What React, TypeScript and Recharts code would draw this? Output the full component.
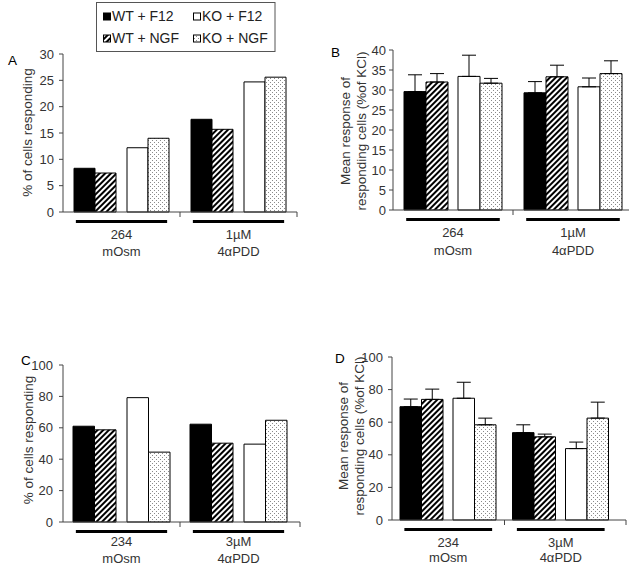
import React from "react";
import { BarChart, Bar, XAxis, YAxis, ErrorBar } from "recharts";

const FONT = "'Liberation Sans', Arial, Helvetica, sans-serif";

const groups = ["WT + F12", "WT + NGF", "KO + F12", "KO + NGF"];
const catsTop = ["264\nmOsm", "1µM\n4αPDD"];
const catsBottom = ["234\nmOsm", "3µM\n4αPDD"];

// A: % of cells responding
const pctA_wtF12 = [8.3, 17.6];
const pctA_wtNGF = [7.4, 15.7];
const pctA_koF12 = [12.2, 24.7];
const pctA_koNGF = [14.0, 25.6];

// B: mean response (% of KCl), upper error
const respB_wtF12 = [29.6, 29.3];
const respB_wtNGF = [32.0, 33.3];
const respB_koF12 = [33.4, 30.8];
const respB_koNGF = [31.7, 34.1];
const errB_wtF12 = [4.2, 2.8];
const errB_wtNGF = [2.1, 2.9];
const errB_koF12 = [5.3, 2.2];
const errB_koNGF = [1.2, 3.2];

// C: % of cells responding
const pctC_wtF12 = [61.0, 62.3];
const pctC_wtNGF = [58.7, 50.2];
const pctC_koF12 = [79.2, 49.6];
const pctC_koNGF = [44.5, 64.8];

// D: mean response (% of KCl), upper error
const respD_wtF12 = [69.5, 53.6];
const respD_wtNGF = [74.0, 51.0];
const respD_koF12 = [74.7, 43.8];
const respD_koNGF = [58.4, 62.5];
const errD_wtF12 = [4.7, 4.8];
const errD_wtNGF = [6.3, 1.7];
const errD_koF12 = [9.8, 4.0];
const errD_koNGF = [4.1, 9.8];

const ticks30 = [0, 5, 10, 15, 20, 25, 30];
const ticks40 = [0, 5, 10, 15, 20, 25, 30, 35, 40];
const ticks100 = [0, 20, 40, 60, 80, 100];

function makeRows(cats: string[], vals: number[][], errs?: number[][]) {
  return cats.map((name, i) => {
    const r: any = { name };
    vals.forEach((v, k) => {
      r[`s${k}`] = v[i];
      if (errs) r[`e${k}`] = [0, errs[k][i]];
    });
    return r;
  });
}

const rowsA = makeRows(catsTop, [pctA_wtF12, pctA_wtNGF, pctA_koF12, pctA_koNGF]);
const rowsB = makeRows(
  catsTop,
  [respB_wtF12, respB_wtNGF, respB_koF12, respB_koNGF],
  [errB_wtF12, errB_wtNGF, errB_koF12, errB_koNGF]
);
const rowsC = makeRows(catsBottom, [pctC_wtF12, pctC_wtNGF, pctC_koF12, pctC_koNGF]);
const rowsD = makeRows(
  catsBottom,
  [respD_wtF12, respD_wtNGF, respD_koF12, respD_koNGF],
  [errD_wtF12, errD_wtNGF, errD_koF12, errD_koNGF]
);

const fills = ["#000", "url(#hatch)", "#fff", "url(#dots)"];

function CatTick(props: any) {
  const { x, y, payload, index, dy1, dy2, padRight, count } = props;
  const half = payload && typeof payload.offset === "number" && payload.offset > 0 ? payload.offset : 58;
  const [l1, l2] = String(payload.value).split("\n");
  const bx = x + half + (index === count - 1 ? padRight : 0);
  const uw = half * 0.78;
  return (
    <g>
      <line x1={bx} x2={bx} y1={y} y2={y + 5} stroke="#444" />
      <line x1={x - uw} x2={x + uw} y1={y + 9.5} y2={y + 9.5} stroke="#000" strokeWidth={3} />
      <text x={x} y={y + dy1} textAnchor="middle" fontSize={13} fill="#333" fontFamily={FONT}>
        {l1}
      </text>
      <text x={x} y={y + dy2} textAnchor="middle" fontSize={13} fill="#333" fontFamily={FONT}>
        {l2}
      </text>
    </g>
  );
}

type PanelProps = {
  left: number;
  top: number;
  width: number;
  height: number;
  margin: { top: number; right: number; bottom: number; left: number };
  yWidth: number;
  xHeight: number;
  domain: [number, number];
  ticks: number[];
  rows: any[];
  hasErr: boolean;
  barSize: number;
  gapSize: number;
  padRight: number;
  labelDy: [number, number];
  yTickMargin: number;
};

function Panel(p: PanelProps) {
  const bar = (k: number) => (
    <Bar
      key={`s${k}`}
      dataKey={`s${k}`}
      name={groups[k]}
      fill={fills[k]}
      stroke="#000"
      strokeWidth={1}
      barSize={p.barSize}
      isAnimationActive={false}
    >
      {p.hasErr && (
        <ErrorBar
          dataKey={`e${k}`}
          width={7}
          stroke="#000"
          strokeWidth={1}
          direction="y"
          isAnimationActive={false}
        />
      )}
    </Bar>
  );
  return (
    <div style={{ position: "absolute", left: p.left, top: p.top }}>
      <BarChart width={p.width} height={p.height} data={p.rows} margin={p.margin} barGap={0}>
        <XAxis
          dataKey="name"
          axisLine={{ stroke: "#444" }}
          tickLine={false}
          tickSize={0}
          tickMargin={0}
          height={p.xHeight}
          interval={0}
          padding={{ left: 0, right: p.padRight }}
          tick={(t: any) => (
            <CatTick {...t} dy1={p.labelDy[0]} dy2={p.labelDy[1]} padRight={p.padRight} count={p.rows.length} />
          )}
        />
        <YAxis
          type="number"
          domain={p.domain}
          ticks={p.ticks}
          interval={0}
          width={p.yWidth}
          axisLine={{ stroke: "#444" }}
          tickLine={{ stroke: "#444" }}
          tickSize={4}
          tickMargin={p.yTickMargin}
          tick={{ fontSize: 13, fill: "#333", fontFamily: FONT }}
        />
        {bar(0)}
        {bar(1)}
        <Bar dataKey="gap" barSize={p.gapSize} fill="none" isAnimationActive={false} />
        {bar(2)}
        {bar(3)}
      </BarChart>
    </div>
  );
}

function RotText({ cx, cy, text }: { cx: number; cy: number; text: string }) {
  return (
    <text
      x={cx}
      y={cy}
      transform={`rotate(-90 ${cx} ${cy})`}
      textAnchor="middle"
      dominantBaseline="central"
      fontSize={13.5}
      fill="#333"
      fontFamily={FONT}
    >
      {text}
    </text>
  );
}

function Overlay() {
  const sw = [
    { x: 103.5, y: 13, label: groups[0], fill: fills[0] },
    { x: 103.5, y: 35, label: groups[1], fill: fills[1] },
    { x: 193.5, y: 13, label: groups[2], fill: fills[2] },
    { x: 193.5, y: 35, label: groups[3], fill: fills[3] },
  ];
  return (
    <svg width={629} height={566} style={{ position: "absolute", left: 0, top: 0 }}>
      <defs>
        <pattern id="hatch" patternUnits="userSpaceOnUse" width={4} height={4} patternTransform="rotate(45)">
          <rect width={4} height={4} fill="#fff" />
          <rect width={2} height={4} fill="#000" />
        </pattern>
        <pattern id="dots" patternUnits="userSpaceOnUse" width={4} height={4}>
          <rect width={4} height={4} fill="#fff" />
          <rect x={0} y={0} width={1} height={1} fill="#8a8a8a" />
          <rect x={2} y={2} width={1} height={1} fill="#8a8a8a" />
        </pattern>
      </defs>
      <rect x={96.5} y={2.5} width={178.5} height={49} fill="#fff" stroke="#555" />
      {sw.map((s) => (
        <g key={s.label}>
          <rect x={s.x} y={s.y} width={7} height={7} fill={s.fill} stroke="#000" />
          <text x={s.x + 8.5} y={s.y + 7.5} fontSize={14} fill="#222" fontFamily={FONT}>
            {s.label}
          </text>
        </g>
      ))}
      <g fontSize={13.5} fontFamily={FONT} fill="#000">
        <text x={8} y={65}>A</text>
        <text x={331} y={57}>B</text>
        <text x={21} y={365}>C</text>
        <text x={335} y={363}>D</text>
      </g>
      <RotText cx={27} cy={132.5} text="% of cells responding" />
      <RotText cx={345} cy={131} text="Mean response of" />
      <RotText cx={361} cy={131} text="responding cells (%of KCl)" />
      <RotText cx={28.5} cy={440} text="% of cells responding" />
      <RotText cx={343} cy={436} text="Mean response of" />
      <RotText cx={359.5} cy={436} text="responding cells (%of KCl)" />
    </svg>
  );
}

export default function App() {
  return (
    <div
      style={{
        position: "absolute",
        left: 0,
        top: 0,
        width: 629,
        height: 566,
        overflow: "hidden",
        background: "#fff",
        fontFamily: FONT,
      }}
    >
      <Overlay />
      <Panel
        left={0}
        top={0}
        width={315}
        height={283}
        margin={{ top: 54, right: 18, bottom: 21, left: 0 }}
        yWidth={63}
        xHeight={50}
        domain={[0, 30]}
        ticks={ticks30}
        rows={rowsA}
        hasErr={false}
        barSize={21}
        gapSize={11}
        padRight={0}
        labelDy={[27, 44]}
        yTickMargin={5}
      />
      <Panel
        left={315}
        top={0}
        width={320}
        height={283}
        margin={{ top: 50, right: 2, bottom: 23, left: 0 }}
        yWidth={78}
        xHeight={50}
        domain={[0, 40]}
        ticks={ticks40}
        rows={rowsB}
        hasErr={true}
        barSize={22}
        gapSize={10}
        padRight={0}
        labelDy={[27, 45]}
        yTickMargin={3}
      />
      <Panel
        left={0}
        top={283}
        width={315}
        height={283}
        margin={{ top: 82, right: 15, bottom: 4, left: 0 }}
        yWidth={63}
        xHeight={40}
        domain={[0, 100]}
        ticks={ticks100}
        rows={rowsC}
        hasErr={false}
        barSize={21.5}
        gapSize={11}
        padRight={3}
        labelDy={[24, 41]}
        yTickMargin={6}
      />
      <Panel
        left={315}
        top={283}
        width={314}
        height={283}
        margin={{ top: 74, right: 3, bottom: 4, left: 0 }}
        yWidth={77}
        xHeight={42}
        domain={[0, 100]}
        ticks={ticks100}
        rows={rowsD}
        hasErr={true}
        barSize={21.5}
        gapSize={10}
        padRight={9}
        labelDy={[27, 42]}
        yTickMargin={5}
      />
    </div>
  );
}
